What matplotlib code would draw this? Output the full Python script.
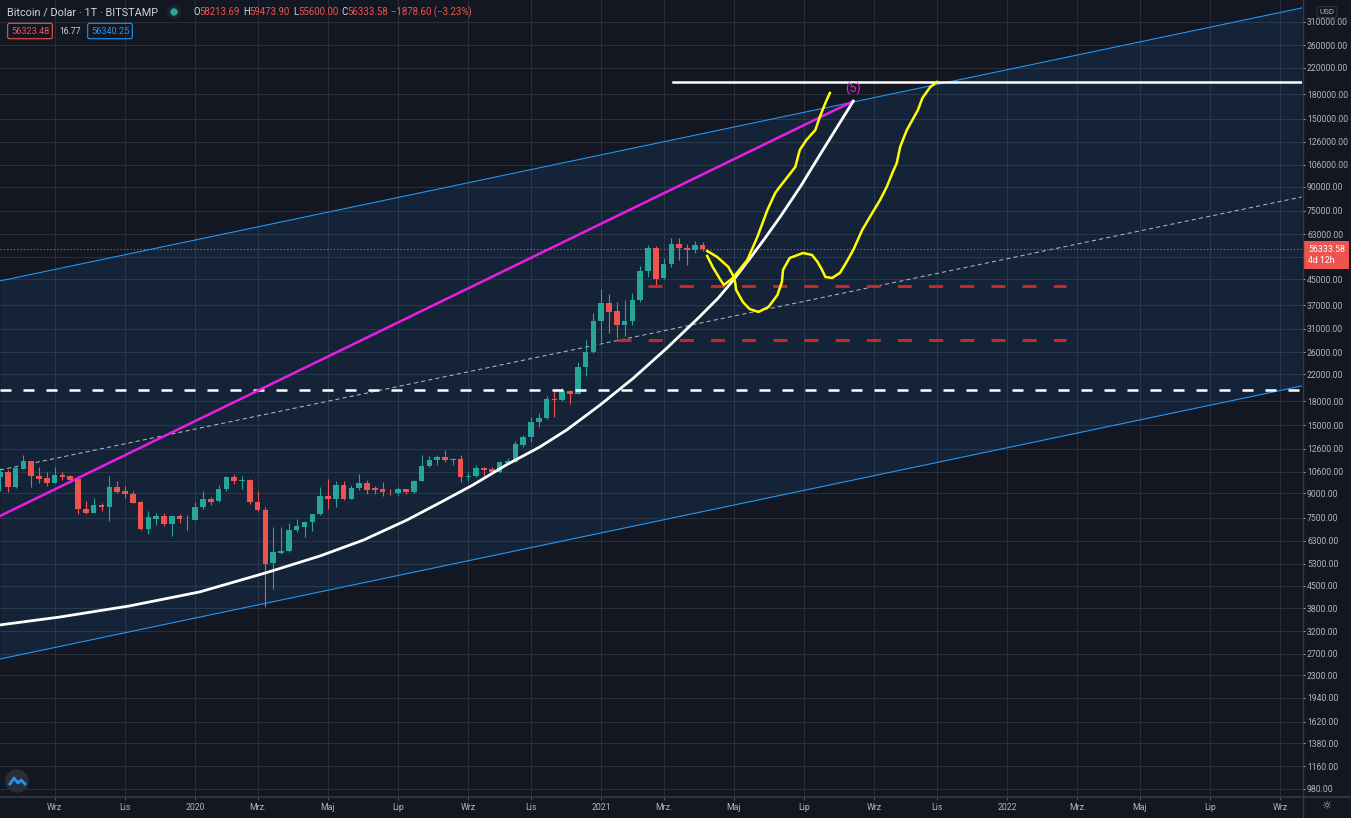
import numpy as np
import pandas as pd
import matplotlib
matplotlib.use('Agg')
import matplotlib.pyplot as plt
import matplotlib.dates as mdates
from matplotlib.lines import Line2D
from matplotlib.patches import Ellipse
from matplotlib.ticker import FixedLocator, NullLocator
from matplotlib.transforms import blended_transform_factory

plt.rcParams['font.family'] = ['Roboto', 'DejaVu Sans']

W, H = 1351, 818
BG = '#131722'
GRID = '#2a2e39'
TXT = '#b2b5be'
UP = '#26a69a'
DOWN = '#ef5350'

# --- weekly candles, BTC/USD Bitstamp (1T = 1 week) ---
week_start = pd.date_range('2019-07-15', periods=91, freq='7D')
opens = [10150, 10550, 9450, 10850, 11480, 10250, 10130, 9740, 10350, 10250,
         10000, 8010, 7790, 8260, 8150, 9470, 9180, 8950, 8450, 6900,
         7430, 7600, 7160, 7600, 7500, 7400, 8120, 8600, 8480, 9320,
         10150, 9900, 9980, 8460, 7940, 5340, 5760, 5840, 6850, 7020,
         7240, 7740, 8830, 8620, 9580, 8620, 9350, 9700, 9350, 9280,
         9130, 9000, 9280, 9130, 9910, 11060, 11600, 11830, 11560, 11680,
         10150, 10250, 10870, 10800, 10560, 11290, 11400, 12990, 13700, 15400,
         15820, 18250, 18150, 19400, 19000, 23300, 26000, 32850, 37670, 35390,
         31870, 32850, 38450, 47900, 57000, 45200, 50370, 58400, 57000, 55800,
         58213.69]
highs = [10900, 10700, 11000, 12000, 11500, 11000, 10600, 10950, 10550, 10350,
         10100, 8520, 8700, 8400, 10250, 9900, 9500, 9150, 8500, 7880,
         7750, 7750, 7600, 7700, 7650, 8450, 9150, 8750, 9600, 10250,
         10450, 10250, 10000, 9150, 8120, 7000, 7000, 7200, 7450, 7300,
         7740, 9460, 10050, 9900, 9900, 9600, 10400, 9950, 9550, 9780,
         9300, 9450, 9300, 9950, 12000, 11900, 12050, 12450, 11700, 12050,
         10600, 11150, 10950, 10950, 11450, 11720, 13350, 14000, 15950, 16450,
         18700, 19400, 19900, 19500, 24100, 28400, 34800, 41800, 40100, 37800,
         38300, 40600, 49700, 58300, 57500, 52600, 61000, 61000, 58400, 60000,
         59473.90]
lows = [9150, 9100, 9400, 10800, 9450, 9700, 9530, 9700, 9950, 9700,
        7740, 7740, 7750, 7900, 7330, 9000, 8700, 8350, 6830, 6650,
        7100, 7050, 6540, 7200, 6860, 7350, 8020, 8250, 8450, 9200,
        9650, 9300, 8300, 7900, 3850, 4400, 5700, 5800, 6750, 6500,
        6800, 7650, 8020, 8120, 8550, 8600, 9250, 8950, 8950, 8850,
        8900, 8900, 8950, 9050, 9900, 10950, 11100, 11400, 11150, 9830,
        9850, 10200, 10150, 10500, 10500, 11200, 11400, 12800, 13200, 14800,
        15700, 16000, 18000, 17600, 19000, 21800, 25800, 28000, 29950, 28870,
        29300, 31870, 37900, 45600, 43000, 44900, 49300, 52000, 50050, 54700,
        55600.00]
closes = [10550, 9450, 10870, 11480, 10220, 10020, 9740, 10350, 10200, 9980,
          8010, 7790, 8260, 8130, 9470, 9100, 8930, 8400, 6900, 7520,
          7600, 7160, 7600, 7430, 7460, 8120, 8600, 8430, 9280, 10150,
          9900, 9980, 8460, 7950, 5300, 5790, 5860, 6850, 7070, 7240,
          7740, 8830, 8620, 9580, 8600, 9350, 9700, 9230, 9220, 9100,
          9100, 9280, 9130, 9910, 11060, 11600, 11830, 11560, 11620, 10200,
          10250, 10870, 10740, 10580, 11370, 11450, 13050, 13700, 15390, 15830,
          18250, 18150, 19400, 19000, 23300, 26000, 32850, 37670, 35250, 31870,
          32850, 38450, 47900, 56680, 45000, 50370, 58400, 57000, 55800, 58200,
          56333.58]

# --- drawings ---
channel_dates = ['2019-07-15', '2022-09-24']
channel_top = [44350, 344100]
channel_mid = [10730, 83300]
channel_bot = [2598, 20160]

wave_dates = ['2019-07-15', '2021-08-18']
wave_prices = [7600, 171000]

curve_dates = ['2019-07-15', '2019-09-07', '2019-11-08', '2020-01-10', '2020-03-09',
               '2020-04-27', '2020-06-05', '2020-07-14', '2020-08-12', '2020-09-11',
               '2020-10-11', '2020-11-10', '2020-12-04', '2021-01-03', '2021-02-02',
               '2021-03-04', '2021-04-02', '2021-04-19', '2021-05-04', '2021-05-17',
               '2021-05-31', '2021-06-14', '2021-07-02', '2021-07-19', '2021-08-18']
curve_prices = [3354, 3561, 3868, 4297, 4955, 5630, 6346, 7376, 8379, 9592,
                11150, 12760, 14490, 17480, 21410, 26820, 33850, 39040, 45350, 52300,
                61240, 72230, 90480, 114200, 171000]

path1_dates = ['2021-04-09', '2021-04-18', '2021-04-28', '2021-05-02', '2021-05-04',
               '2021-05-05', '2021-05-11', '2021-05-17', '2021-05-25', '2021-06-03',
               '2021-06-11', '2021-06-15', '2021-06-16', '2021-06-22', '2021-07-04',
               '2021-07-12', '2021-07-17', '2021-07-21', '2021-07-24', '2021-07-30',
               '2021-08-06', '2021-08-12', '2021-08-18', '2021-08-26', '2021-09-04',
               '2021-09-11', '2021-09-17', '2021-09-22', '2021-09-26', '2021-09-29',
               '2021-10-05', '2021-10-10', '2021-10-15', '2021-10-19', '2021-10-26',
               '2021-11-01']
path1_prices = [55540, 53090, 49250, 46380, 44000, 41440, 37880, 35930, 35140, 36480,
                39920, 44000, 48160, 52700, 54710, 53890, 51140, 48160, 45690, 45350,
                47090, 51140, 55950, 65010, 73860, 81430, 89800, 99700, 107500, 121200,
                137700, 148500, 160100, 175100, 190100, 197400]

path2_dates = ['2021-04-09', '2021-04-14', '2021-04-21', '2021-04-24', '2021-05-02',
               '2021-05-15', '2021-05-24', '2021-06-02', '2021-06-09', '2021-06-13',
               '2021-06-27', '2021-07-01', '2021-07-07', '2021-07-15', '2021-07-19',
               '2021-07-24', '2021-07-28']
path2_prices = [53490, 49250, 44680, 43030, 45350, 51920, 61690, 75530, 85820, 89800,
                104300, 118500, 127800, 137700, 151900, 168700, 181800]

target_level = 197400
target_start = '2021-03-09'
prev_ath = 19500
support_levels = [42700, 28480]
support_starts = ['2021-02-15', '2021-01-18']
support_end = '2022-02-25'
label5_date, label5_price = '2021-08-18', 188700

x_left, x_right = '2019-07-15', '2022-09-24T07:00'
y_low, y_high = 922, 365300

yticks = [980, 1160, 1380, 1620, 1940, 2300, 2700, 3200, 3800, 4500, 5300, 6300,
          7500, 9000, 10600, 12600, 15000, 18000, 22000, 26000, 31000, 37000,
          45000, 53000, 63000, 75000, 90000, 106000, 126000, 150000, 180000,
          220000, 260000, 310000, 370000]
xtick_dates = ['2019-09-02', '2019-11-04', '2020-01-06', '2020-03-02', '2020-05-04',
               '2020-07-06', '2020-09-07', '2020-11-02', '2021-01-04', '2021-03-01',
               '2021-05-03', '2021-07-05', '2021-09-06', '2021-11-01', '2022-01-03',
               '2022-03-07', '2022-05-02', '2022-07-04', '2022-09-05']
xtick_labels = ['Wrz', 'Lis', '2020', 'Mrz.', 'Maj', 'Lip', 'Wrz', 'Lis', '2021', 'Mrz.',
                'Maj', 'Lip', 'Wrz', 'Lis', '2022', 'Mrz.', 'Maj', 'Lip', 'Wrz']


def dn(dates):
    return mdates.date2num(pd.to_datetime(dates, format='ISO8601'))


fig = plt.figure(figsize=(W / 100, H / 100), dpi=100, facecolor=BG)
ax = fig.add_axes([0, 21 / H, 1302 / W, 797 / H])
ax.set_facecolor(BG)
ax.set_yscale('log')

# channel
cx = dn(channel_dates)
ax.fill_between(cx, channel_bot, channel_top, color='#2196f3', alpha=0.10, lw=0, zorder=1)
ax.plot(cx, channel_top, color='#2196f3', lw=0.8, zorder=2)
ax.plot(cx, channel_bot, color='#2196f3', lw=0.8, zorder=2)
ax.plot(cx, channel_mid, color='#b2b5be', lw=0.75, ls=(0, (4, 3)), zorder=2)

# candles
t = dn(week_start)
o, hi, lo, c = (np.array(v, dtype=float) for v in (opens, highs, lows, closes))
cols = np.where(c >= o, UP, DOWN)
ax.vlines(t, lo, hi, colors=cols, lw=0.8, zorder=3)
bot = np.minimum(o, c)
top = np.maximum(o, c)
ax.bar(t, top - bot, bottom=bot, width=5.0, color=cols, lw=0, zorder=3)

# horizontal levels
ax.axhline(prev_ath, color='white', lw=1.8, ls=(0, (4.4, 4.8)), zorder=4)
ax.axhline(closes[-1], color=DOWN, lw=0.8, ls=(0, (1, 2)), zorder=2)
ax.plot(dn([target_start, x_right]), [target_level, target_level], color='white', lw=1.8, zorder=4)
for lvl, st in zip(support_levels, support_starts):
    ax.plot(dn([st, support_end]), [lvl, lvl], color='#c62828', lw=2.2, ls=(0, (4.6, 5.6)), zorder=4)

# wave line, curve and sketches
ax.plot(dn(wave_dates), wave_prices, color='#e91ee6', lw=1.8, zorder=4)
ax.plot(dn(curve_dates), curve_prices, color='white', lw=2.0, zorder=4, solid_joinstyle='round')
ax.plot(dn(path1_dates), path1_prices, color='#ffff00', lw=1.8, zorder=5, solid_joinstyle='round')
ax.plot(dn(path2_dates), path2_prices, color='#ffff00', lw=1.8, zorder=5, solid_joinstyle='round')
ax.text(dn([label5_date])[0], label5_price, '(5)', color='#e91ee6', fontsize=9,
        ha='center', va='center', zorder=6)

# axes
ax.set_xlim(dn([x_left])[0], dn([x_right])[0])
ax.set_ylim(y_low, y_high)
ax.yaxis.set_major_locator(FixedLocator(yticks))
ax.yaxis.set_minor_locator(NullLocator())
ax.set_yticklabels(['' if v == 53000 else f'{v:.2f}' for v in yticks])
ax.yaxis.tick_right()
ax.set_xticks(dn(xtick_dates))
ax.set_xticklabels(xtick_labels)
ax.tick_params(axis='y', colors=TXT, labelsize=6.2, length=2.2, width=0.7, pad=1.4)
ax.tick_params(axis='x', colors=TXT, labelsize=6.3, length=2.2, width=0.7, pad=2.3)
ax.tick_params(axis='x', color='#50535e')
ax.grid(True, color=GRID, lw=0.75, zorder=0)
ax.set_axisbelow(True)
for s in ax.spines.values():
    s.set_visible(False)

# price tag on the scale
blend = blended_transform_factory(ax.transAxes, ax.transData)
ax.annotate(f'{closes[-1]:.2f}\n4d 12h', xy=(1, closes[-1]), xycoords=blend,
            xytext=(6, -6), textcoords='offset pixels', ha='left', va='center',
            color='white', fontsize=6.3, linespacing=1.25, annotation_clip=False,
            bbox=dict(boxstyle='square,pad=0.45', fc=DOWN, ec='none'), zorder=10)

# scale separators
fig.add_artist(Line2D([0, 1], [21.5 / H, 21.5 / H], color='#363a45', lw=1.2))
fig.add_artist(Line2D([1302.5 / W, 1302.5 / W], [0, 1], color='#363a45', lw=1.0))

fig.text(1327 / W, 1 - 12 / H, 'USD', color=TXT, fontsize=5.8, ha='center', va='center',
         bbox=dict(boxstyle='round,pad=0.3,rounding_size=0.3', fc=BG, ec='#363a45', lw=0.7))
fig.text(1326 / W, 1 - 806 / H, '\u263c', family='DejaVu Sans', color=TXT, fontsize=8,
         ha='center', va='center')

# logo
fig.add_artist(Ellipse((17 / W, 1 - 781 / H), 22 / W, 22 / H, color='#2a2e39'))
fig.add_artist(Line2D(np.array([10, 14, 18, 21, 25]) / W, 1 - np.array([784, 778, 783, 780, 784]) / H,
                      color='#2196f3', lw=2.0))

# header
fig.canvas.draw()
renderer = fig.canvas.get_renderer()


def text_row(x, y, parts, size):
    for s, col, gap in parts:
        tt = fig.text(x / W, 1 - y / H, s, color=col, fontsize=size, ha='left', va='center')
        bb = tt.get_window_extent(renderer)
        x = bb.x1 + gap
    return x


text_row(7, 12, [('Bitcoin / Dolar \u00b7 1T \u00b7 BITSTAMP', '#d1d4dc', 0)], 7.8)
fig.add_artist(Ellipse((174 / W, 1 - 12 / H), 13 / W, 13 / H, color='#1e222d'))
fig.add_artist(Ellipse((174 / W, 1 - 12 / H), 6 / W, 6 / H, color='#26a69a'))
text_row(193, 12, [('O', '#d1d4dc', 0), ('58213.69', DOWN, 3), ('H', '#d1d4dc', 0), ('59473.90', DOWN, 3),
                   ('L', '#d1d4dc', 0), ('55600.00', DOWN, 3), ('C', '#d1d4dc', 0), ('56333.58', DOWN, 3),
                   ('\u22121878.60 (\u22123.23%)', DOWN, 0)], 6.9)
fig.text(30 / W, 1 - 31 / H, '56323.48', color=DOWN, fontsize=6.6, ha='center', va='center',
         bbox=dict(boxstyle='round,pad=0.35,rounding_size=0.2', fc='none', ec=DOWN, lw=0.8))
fig.text(70 / W, 1 - 31 / H, '16.77', color='#d1d4dc', fontsize=6.2, ha='center', va='center')
fig.text(110 / W, 1 - 31 / H, '56340.25', color='#2196f3', fontsize=6.6, ha='center', va='center',
         bbox=dict(boxstyle='round,pad=0.35,rounding_size=0.2', fc='none', ec='#2196f3', lw=0.8))

fig.savefig('out.png', dpi=100, facecolor=BG)
